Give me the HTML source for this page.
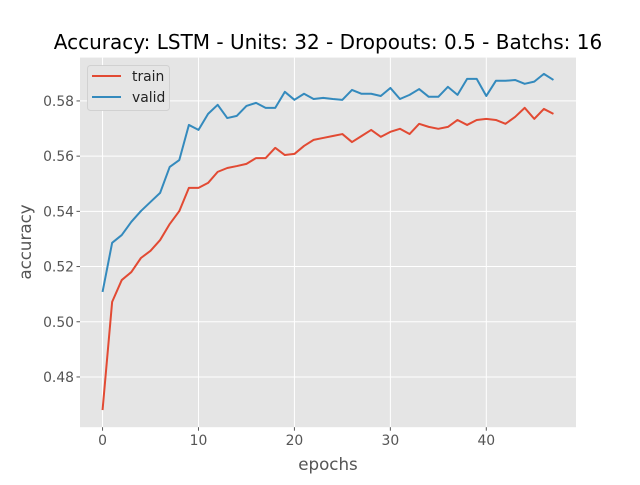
<!DOCTYPE html>
<html><head><meta charset="utf-8"><style>
body{margin:0;background:#fff;width:640px;height:480px;overflow:hidden}
text{font-family:"DejaVu Sans","Liberation Sans",sans-serif}
</style></head><body>
<svg id="chart" width="640" height="480" xmlns="http://www.w3.org/2000/svg"></svg>
<script>
const epochs = Array.from({length:48},(_,i)=>i);
const trainAcc = [0.4680,0.5072,0.5151,0.5180,0.5231,0.5257,0.5296,0.5354,0.5401,0.5485,0.5485,0.5503,0.5543,0.5557,0.5564,0.5572,0.5593,0.5593,0.5630,0.5604,0.5608,0.5637,0.5659,0.5666,0.5673,0.5680,0.5651,0.5673,0.5695,0.5670,0.5688,0.5699,0.5680,0.5717,0.5706,0.5699,0.5706,0.5731,0.5713,0.5731,0.5735,0.5731,0.5717,0.5742,0.5775,0.5735,0.5771,0.5753];
const validAcc = [0.5108,0.5286,0.5314,0.5362,0.5401,0.5434,0.5467,0.5561,0.5586,0.5713,0.5695,0.5753,0.5786,0.5738,0.5746,0.5782,0.5793,0.5775,0.5775,0.5833,0.5804,0.5826,0.5807,0.5811,0.5807,0.5804,0.5840,0.5826,0.5826,0.5818,0.5847,0.5807,0.5822,0.5843,0.5815,0.5815,0.5851,0.5822,0.5880,0.5880,0.5818,0.5873,0.5873,0.5876,0.5862,0.5870,0.5898,0.5876];
const xTicks = [0,10,20,30,40];
const yTicks = [0.48,0.50,0.52,0.54,0.56,0.58];
const yTickLabels = ["0.48","0.50","0.52","0.54","0.56","0.58"];

const L=80,R=576,T=57.6,B=427.2;
const xMin=-2.35,xMax=49.35,yMin=0.4618,yMax=0.5957;
const sx=v=>L+(v-xMin)/(xMax-xMin)*(R-L);
const sy=v=>B-(v-yMin)/(yMax-yMin)*(B-T);
const svg=document.getElementById('chart');
const NS='http://www.w3.org/2000/svg';
function mk(tag,attrs,parent){const e=document.createElementNS(NS,tag);for(const k in attrs)e.setAttribute(k,attrs[k]);(parent||svg).appendChild(e);return e;}

let bg=mk('rect',{x:L,y:T,width:R-L,height:B-T,fill:'#E5E5E5'});



xTicks.forEach(t=>{
  const g=mk('line',{x1:sx(t),x2:sx(t),y1:T,y2:B,stroke:'#fff','stroke-width':1});
  
  
  mk('line',{x1:sx(t),x2:sx(t),y1:B,y2:B+3.5,stroke:'#555'});
  const lb=mk('text',{x:sx(t),y:B+18,'text-anchor':'middle','font-size':'13.9px',fill:'#555'});
  lb.textContent=t;
  
  
});
yTicks.forEach((t,i)=>{
  const g=mk('line',{x1:L,x2:R,y1:sy(t),y2:sy(t),stroke:'#fff','stroke-width':1});
  
  
  mk('line',{x1:L-3.5,x2:L,y1:sy(t),y2:sy(t),stroke:'#555'});
  const lb=mk('text',{x:L-6,y:sy(t)+5,'text-anchor':'end','font-size':'13.9px',fill:'#555'});
  lb.textContent=yTickLabels[i];
  
  
});

function line(vals,color,name){
  const d=vals.map((v,i)=>(i?'L':'M')+sx(epochs[i]).toFixed(2)+','+sy(v).toFixed(2)).join('');
  const p=mk('path',{d:d,fill:'none',stroke:color,'stroke-width':2,'stroke-linejoin':'round'});
  
  
}
line(trainAcc,'#E24A33','train-line');
line(validAcc,'#348ABD','valid-line');

let title=mk('text',{x:328,y:49,'text-anchor':'middle','font-size':'20px',fill:'#000'});
title.textContent='Accuracy: LSTM - Units: 32 - Dropouts: 0.5 - Batchs: 16';


let xl=mk('text',{x:328,y:470,'text-anchor':'middle','font-size':'16.7px',fill:'#555'});
xl.textContent='epochs';


let yl=mk('text',{x:0,y:0,'text-anchor':'middle','font-size':'16.7px',fill:'#555',transform:'translate(31,242) rotate(-90)'});
yl.textContent='accuracy';



let lg=mk('g',{});


mk('rect',{x:87.5,y:65.5,width:82,height:45,rx:3,fill:'#E5E5E5',stroke:'#ccc','stroke-opacity':0.8},lg);
[['train','#E24A33',76],['valid','#348ABD',97]].forEach(([n,c,y])=>{
  const e=mk('g',{},lg);
  
  
  mk('line',{x1:92,x2:121,y1:y,y2:y,stroke:c,'stroke-width':2},e);
  const t=mk('text',{x:132,y:y+5,'font-size':'13.9px',fill:'#222'},e);
  t.textContent=n;
});
</script>
</body></html>
